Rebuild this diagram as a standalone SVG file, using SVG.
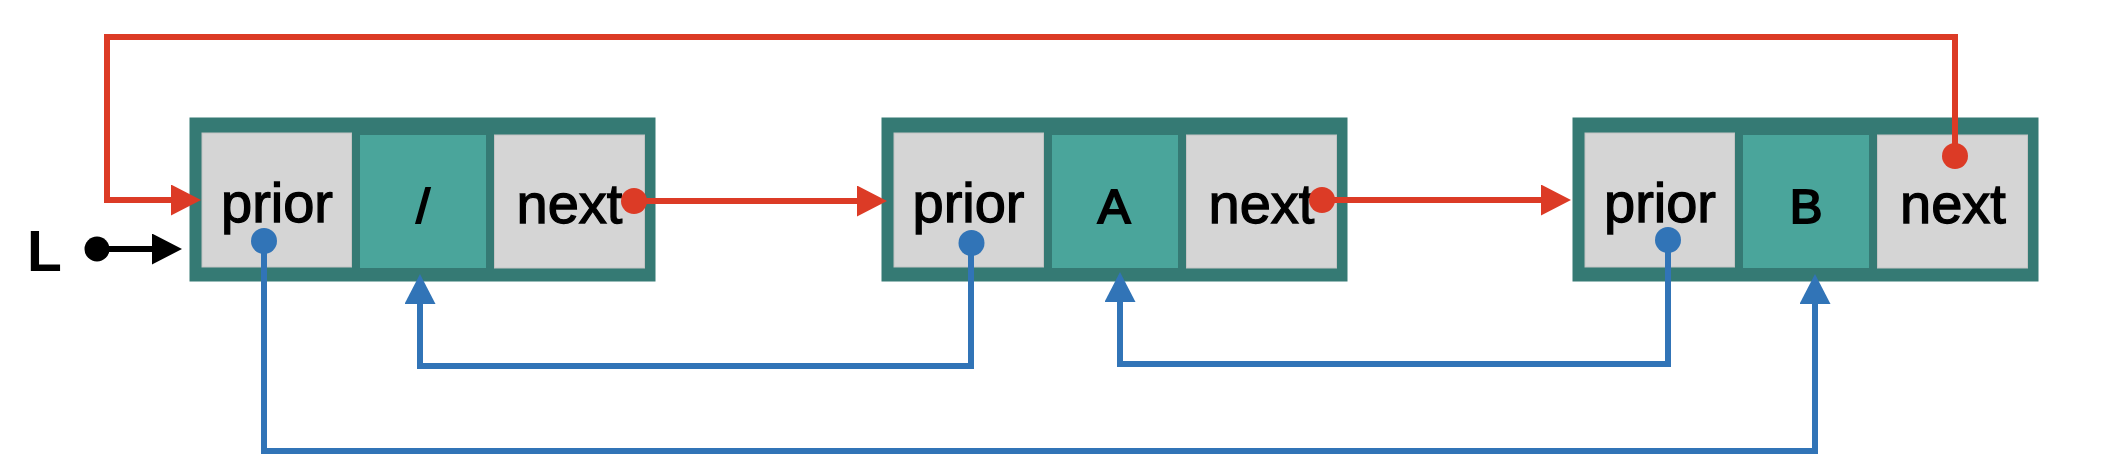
<svg xmlns="http://www.w3.org/2000/svg" width="2108" height="476" viewBox="0 0 2108 476">
  <style>
    .outer { fill: #357A74; }
    .cell { fill: #D5D5D5; stroke: #C4C4C4; stroke-width: 1; }
    .mid { fill: #4AA59B; }
    .lbl { font-family: "Liberation Sans", Arial, Helvetica, sans-serif; font-size: 56px; fill: #000; stroke: #000; stroke-width: 1.3; text-anchor: middle; }
    .val { font-family: "Liberation Sans", Arial, Helvetica, sans-serif; font-size: 49px; fill: #000; stroke: #000; stroke-width: 2; text-anchor: middle; }
    .red { fill: none; stroke: #DC3B26; stroke-width: 6; }
    .blue { fill: none; stroke: #3174B7; stroke-width: 6; }
    .blk { fill: none; stroke: #000; stroke-width: 6; }
  </style>
  <defs>
    <marker id="ar" markerUnits="userSpaceOnUse" markerWidth="32" markerHeight="32" refX="2" refY="15.5" orient="auto">
      <path d="M0,0 L30,15.5 L0,31 z" fill="#DC3B26"/>
    </marker>
    <marker id="ab" markerUnits="userSpaceOnUse" markerWidth="32" markerHeight="32" refX="2" refY="15.5" orient="auto">
      <path d="M0,0 L30,15.5 L0,31 z" fill="#3174B7"/>
    </marker>
    <marker id="ak" markerUnits="userSpaceOnUse" markerWidth="32" markerHeight="32" refX="2" refY="15.5" orient="auto">
      <path d="M0,0 L30,15.5 L0,31 z" fill="#000"/>
    </marker>
  </defs>
  <rect width="2108" height="476" fill="#FFFFFF"/>

  <g id="node1">
    <rect class="outer" x="189.5" y="117.5" width="466" height="164"/>
    <rect class="cell" x="202" y="133" width="149.5" height="134"/>
    <rect class="mid" x="360" y="135" width="126" height="133"/>
    <rect class="cell" x="494.5" y="135" width="150" height="133"/>
    <text class="lbl" x="277" y="221.5">prior</text>
    <text class="val" x="423" y="222.5">/</text>
    <text class="lbl" x="569.5" y="222.5">next</text>
  </g>

  <g id="node2">
    <rect class="outer" x="881.5" y="117.5" width="466" height="164"/>
    <rect class="cell" x="894" y="133" width="149.5" height="134"/>
    <rect class="mid" x="1052" y="135" width="126" height="133"/>
    <rect class="cell" x="1186.5" y="135" width="150" height="133"/>
    <text class="lbl" x="968.5" y="221.5">prior</text>
    <text class="val" x="1114" y="222.5">A</text>
    <text class="lbl" x="1261.5" y="222.5">next</text>
  </g>

  <g id="node3">
    <rect class="outer" x="1572.5" y="117.5" width="466" height="164"/>
    <rect class="cell" x="1585" y="133" width="149.5" height="134"/>
    <rect class="mid" x="1743" y="135" width="126" height="133"/>
    <rect class="cell" x="1877.5" y="135" width="150" height="133"/>
    <text class="lbl" x="1660" y="221.5">prior</text>
    <text class="val" x="1806" y="222.5">B</text>
    <text class="lbl" x="1953" y="222.5">next</text>
  </g>

  <g id="head">
    <text x="27" y="271" font-family="'Liberation Sans', Arial, Helvetica, sans-serif" font-size="57" font-weight="bold" fill="#000">L</text>
  </g>

  <g id="connectors">
    <path class="blk" d="M97,249 H154" marker-end="url(#ak)"/>
    <circle cx="97" cy="249" r="12.5" fill="#000"/>

    <path class="red" d="M1955,156 V37 H107 V200 H173" marker-end="url(#ar)"/>
    <path class="red" d="M634,201 H859" marker-end="url(#ar)"/>
    <path class="red" d="M1322,200 H1543" marker-end="url(#ar)"/>
    <circle cx="634" cy="201" r="13" fill="#DC3B26"/>
    <circle cx="1322" cy="200" r="13" fill="#DC3B26"/>
    <circle cx="1955" cy="156" r="13" fill="#DC3B26"/>

    <path class="blue" d="M264,241 V451 H1815 V302" marker-end="url(#ab)"/>
    <path class="blue" d="M971,243 V366 H420 V302" marker-end="url(#ab)"/>
    <path class="blue" d="M1668,240 V364 H1120 V300" marker-end="url(#ab)"/>
    <circle cx="264" cy="241" r="13" fill="#3174B7"/>
    <circle cx="971.5" cy="243" r="13" fill="#3174B7"/>
    <circle cx="1668" cy="240" r="13" fill="#3174B7"/>
  </g>
</svg>
